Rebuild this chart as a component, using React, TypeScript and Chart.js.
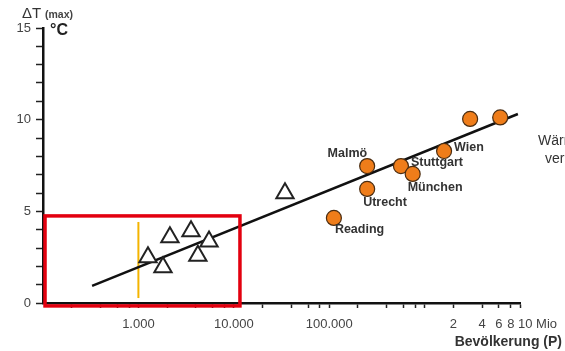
import React, { useEffect, useRef } from "react";
import { Chart, registerables } from "chart.js";

Chart.register(...registerables);

// ---- data ----
const triangleX = [1260, 1810, 2140, 3560, 4200, 5500, 34400];
const triangleY = [2.5, 1.95, 3.58, 3.91, 2.58, 3.36, 5.98];

const cityNames = ["Reading", "Utrecht", "Malmö", "Stuttgart", "München", "Wien", "", ""];
const cityX = [112000, 250000, 250000, 565000, 750000, 1600000, 3000000, 6200000];
const cityY = [4.64, 6.22, 7.47, 7.47, 7.04, 8.29, 10.04, 10.12];

const trendX = [327, 9500000];
const trendY = [0.93, 10.31];

const markerX = [1000, 1000];
const markerY = [0.27, 4.42];

const boxX = [105, 11600];
const boxY = [-0.16, 4.75];

const xTickValues = [
  200, 400, 600, 800, 1000,
  2000, 4000, 6000, 8000, 10000,
  20000, 40000, 60000, 80000, 100000,
  200000, 400000, 600000, 800000, 1000000,
  2000000, 4000000, 6000000, 8000000, 10000000,
];
const xTickLabels: Record<string, string> = {
  "1000": "1.000",
  "10000": "10.000",
  "100000": "100.000",
  "2000000": "2",
  "4000000": "4",
  "6000000": "6",
  "8000000": "8",
};
const xLastLabel = "10 Mio";
const yTickValues = [0, 1, 2, 3, 4, 5, 6, 7, 8, 9, 10, 11, 12, 13, 14, 15];
const yLabelValues = [0, 5, 10, 15];

// ---- styling (not data) ----
const FONT = "'Liberation Sans', Arial, sans-serif";
const cityLabelOffsets: [number, number, CanvasTextAlign][] = [
  [1, 12, "left"],
  [-4, 14, "left"],
  [0, -13, "right"],
  [10, -4, "left"],
  [-5, 14, "left"],
  [10, -3, "left"],
  [0, 0, "left"],
  [0, 0, "left"],
];

const decorPlugin = {
  id: "decor",
  afterDatasetsDraw(chart: any) {
    const ctx = chart.ctx as CanvasRenderingContext2D;
    const xs = chart.scales.x;
    const ys = chart.scales.y;

    // red box
    ctx.save();
    const x0 = xs.getPixelForValue(boxX[0]);
    const x1 = xs.getPixelForValue(boxX[1]);
    const y0 = ys.getPixelForValue(boxY[1]);
    const y1 = ys.getPixelForValue(boxY[0]);
    ctx.strokeStyle = "#E3000F";
    ctx.lineWidth = 3.5;
    ctx.strokeRect(x0, y0, x1 - x0, y1 - y0);
    ctx.restore();

    // city labels
    const meta = chart.getDatasetMeta(1);
    ctx.save();
    ctx.font = `bold 12.5px ${FONT}`;
    ctx.fillStyle = "#333";
    ctx.textBaseline = "middle";
    meta.data.forEach((pt: any, i: number) => {
      const name = cityNames[i];
      if (!name) return;
      const [dx, dy, align] = cityLabelOffsets[i];
      ctx.textAlign = align;
      ctx.fillText(name, pt.x + dx, pt.y + dy);
    });
    ctx.restore();
  },
  afterDraw(chart: any) {
    const ctx = chart.ctx as CanvasRenderingContext2D;
    const xs = chart.scales.x;
    ctx.save();
    // last x tick label
    ctx.font = `13px ${FONT}`;
    ctx.fillStyle = "#444";
    ctx.textBaseline = "middle";
    ctx.textAlign = "left";
    ctx.fillText(xLastLabel, xs.getPixelForValue(10000000) - 2, xs.top + 5 + 9 + 7.8);

    // axis titles
    ctx.fillStyle = "#333";
    ctx.font = `15px ${FONT}`;
    ctx.fillText("ΔT", 22, 14);
    ctx.font = `bold 10.5px ${FONT}`;
    ctx.fillStyle = "#444";
    ctx.fillText("(max)", 45, 15);
    ctx.font = `bold 16px ${FONT}`;
    ctx.fillStyle = "#222";
    ctx.fillText("°C", 50, 31);

    ctx.font = `bold 14px ${FONT}`;
    ctx.fillStyle = "#333";
    ctx.textAlign = "right";
    ctx.fillText("Bevölkerung (P)", 562, 342);

    // cut-off side text
    ctx.font = `14px ${FONT}`;
    ctx.textAlign = "left";
    ctx.fillStyle = "#333";
    ctx.fillText("Wärmeinsel-", 538, 141);
    ctx.fillText("verstärkung", 545, 159);
    ctx.restore();
  },
};

export default function App() {
  const ref = useRef<HTMLCanvasElement | null>(null);

  useEffect(() => {
    if (!ref.current) return;
    const toPts = (xs: number[], ys: number[]) => xs.map((x, i) => ({ x, y: ys[i] }));
    const chart = new Chart(ref.current, {
      type: "scatter",
      data: {
        datasets: [
          {
            data: toPts(triangleX, triangleY),
            pointStyle: "triangle",
            pointRadius: 10,
            borderWidth: 2,
            borderColor: "#222",
            backgroundColor: "#fff",
          },
          {
            data: toPts(cityX, cityY),
            pointStyle: "circle",
            pointRadius: 7.5,
            borderWidth: 1.2,
            borderColor: "#4a2c10",
            backgroundColor: "#EF7D1A",
          },
          {
            data: toPts(trendX, trendY),
            showLine: true,
            pointRadius: 0,
            borderColor: "#111",
            borderWidth: 2.5,
          },
          {
            data: toPts(markerX, markerY),
            showLine: true,
            pointRadius: 0,
            borderColor: "#F4B400",
            borderWidth: 2,
          },
        ],
      },
      options: {
        animation: false,
        responsive: false,
        maintainAspectRatio: false,
        layout: { padding: { top: 28, right: 45, left: 0, bottom: 0 } },
        plugins: { legend: { display: false }, tooltip: { enabled: false } },
        scales: {
          x: {
            type: "logarithmic",
            min: 100,
            max: 10000000,
            afterBuildTicks: (s: any) => {
              s.ticks = xTickValues.map((v) => ({ value: v }));
            },
            afterFit: (s: any) => {
              s.height = 48;
            },
            ticks: {
              autoSkip: false,
              maxRotation: 0,
              minRotation: 0,
              padding: 9,
              color: "#444",
              font: { family: FONT, size: 13 },
              callback: (v: any) => xTickLabels[String(v)] ?? "",
            },
            grid: {
              drawOnChartArea: false,
              drawTicks: true,
              tickLength: 5,
              tickColor: "#222",
              tickWidth: 1.5,
            },
            border: { display: true, color: "#111", width: 2.5 },
          },
          y: {
            type: "linear",
            min: 0,
            max: 15,
            afterBuildTicks: (s: any) => {
              s.ticks = yTickValues.map((v) => ({ value: v }));
            },
            afterFit: (s: any) => {
              s.width = 43;
            },
            ticks: {
              autoSkip: false,
              padding: 5,
              color: "#444",
              font: { family: FONT, size: 13 },
              callback: (v: any) => (yLabelValues.includes(Number(v)) ? String(v) : ""),
            },
            grid: {
              drawOnChartArea: false,
              drawTicks: true,
              tickLength: 7,
              tickColor: "#222",
              tickWidth: 1.5,
            },
            border: { display: true, color: "#111", width: 2.5 },
          },
        },
      },
      plugins: [decorPlugin],
    } as any);
    return () => chart.destroy();
  }, []);

  return (
    <div style={{ position: "fixed", left: 0, top: 0, width: 565, height: 351, background: "#fff" }}>
      <canvas ref={ref} width={565} height={351} />
    </div>
  );
}
